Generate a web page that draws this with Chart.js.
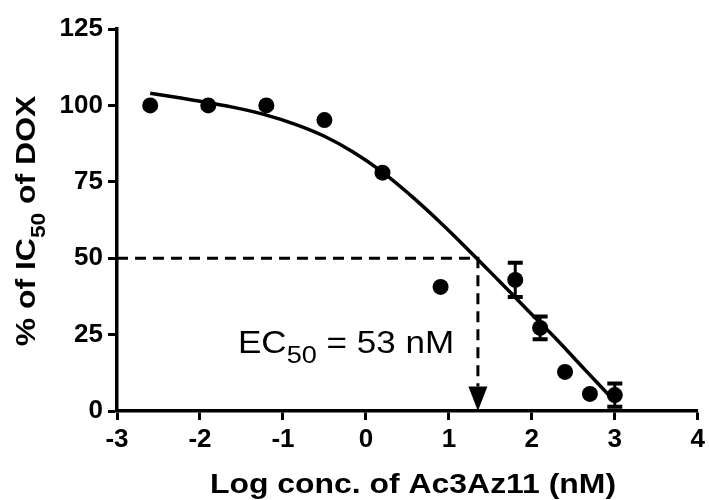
<!DOCTYPE html>
<html>
<head>
<meta charset="utf-8">
<script src="https://cdn.jsdelivr.net/npm/chart.js@4"></script>
<style>
  body { margin: 0; background: #fff; }
  #wrap { width: 709px; height: 500px; position: relative; }
</style>
</head>
<body>
<div id="wrap"><canvas id="ec50-chart"></canvas></div>
<script>
// Measured points (log nM vs % of IC50 of DOX)
const logConc = [-2.6, -1.9, -1.2, -0.5, 0.2, 0.9, 1.8, 2.1, 2.4, 2.7, 3.0];
const pctIC50 = [100, 100, 100, 95.2, 78, 40.6, 42.9, 27.2, 12.8, 5.6, 5.2];
const semVals = [0, 0, 0, 0, 0, 0, 5.6, 3.7, 0, 0, 3.8];

// Fitted curve
const fitX = [-2.6, -2.25, -1.9, -1.55, -1.2, -0.85, -0.5, -0.15, 0.2, 0.55, 0.9, 1.25, 1.6, 1.95, 2.3, 2.65, 2.95];
const fitY = [104, 102.5, 100.9, 99.1, 96.8, 93.8, 89.9, 84.7, 78.2, 70.3, 61.6, 52.3, 42.7, 33.0, 23.4, 13.2, 4.6];

// EC50 guide
const ec50Log = 1.35;
const ec50Level = 50;
const arrowBase = 8;

const xTicks = [-3, -2, -1, 0, 1, 2, 3, 4];
const yTicks = [0, 25, 50, 75, 100, 125];

const FONT = 'Arial, "Liberation Sans", sans-serif';

function partsWidth(ctx, parts) {
    let w = 0;
    parts.forEach(p => { ctx.font = p.font; w += ctx.measureText(p.text).width; });
    return w;
}

function drawParts(ctx, parts, x, y, stretch) {
    ctx.save();
    ctx.translate(x, y);
    ctx.scale(stretch, 1);
    ctx.fillStyle = "#000";
    ctx.textBaseline = "alphabetic";
    ctx.textAlign = "left";
    let cx = 0;
    parts.forEach(p => {
        ctx.font = p.font;
        ctx.fillText(p.text, cx, p.dy || 0);
        cx += ctx.measureText(p.text).width;
    });
    ctx.restore();
}

// error bars, arrow head and texts
const extras = {
    id: "extras",
    afterDatasetsDraw(chart) {
        const ctx = chart.ctx;
        const xs = chart.scales.x, ys = chart.scales.y;

        // error bars
        ctx.save();
        ctx.strokeStyle = "#000";
        logConc.forEach((x, i) => {
            if (!semVals[i]) return;
            const px = xs.getPixelForValue(x);
            const top = ys.getPixelForValue(pctIC50[i] + semVals[i]);
            const bot = ys.getPixelForValue(pctIC50[i] - semVals[i]);
            ctx.lineWidth = 3;
            ctx.beginPath();
            ctx.moveTo(px, top); ctx.lineTo(px, bot);
            ctx.stroke();
            ctx.lineWidth = 4;
            ctx.beginPath();
            ctx.moveTo(px - 7.5, top); ctx.lineTo(px + 7.5, top);
            ctx.moveTo(px - 7.5, bot); ctx.lineTo(px + 7.5, bot);
            ctx.stroke();
        });

        // arrow head
        const ax = xs.getPixelForValue(ec50Log);
        const ab = ys.getPixelForValue(arrowBase);
        const at = ys.getPixelForValue(0);
        ctx.fillStyle = "#000";
        ctx.beginPath();
        ctx.moveTo(ax - 9.5, ab);
        ctx.lineTo(ax + 9.5, ab);
        ctx.lineTo(ax, at);
        ctx.closePath();
        ctx.fill();
        ctx.restore();

        // EC50 label
        drawParts(ctx, [
            { text: "EC", font: "31px " + FONT },
            { text: "50", font: "24px " + FONT, dy: 10 },
            { text: " = 53 nM", font: "31px " + FONT }
        ], 238, 353, 1.13);
    },
    afterDraw(chart) {
        const ctx = chart.ctx;
        // x title
        const xParts = [{ text: "Log conc. of Ac3Az11 (nM)", font: "bold 28px " + FONT }];
        const xw = partsWidth(ctx, xParts) * 1.14;
        drawParts(ctx, xParts, 413 - xw / 2, 493, 1.14);

        // y title
        const yParts = [
            { text: "% of IC", font: "bold 28px " + FONT },
            { text: "50", font: "bold 20px " + FONT, dy: 10 },
            { text: " of DOX", font: "bold 28px " + FONT }
        ];
        const yw = partsWidth(ctx, yParts) * 1.14;
        ctx.save();
        ctx.translate(35, 221);
        ctx.rotate(-Math.PI / 2);
        drawParts(ctx, yParts, -yw / 2, 0, 1.14);
        ctx.restore();
    }
};

const ctx = document.getElementById("ec50-chart").getContext("2d");

let chart = new Chart(ctx, {
    type: "line",
    data: {
        datasets: [{
            label: "data",
            data: logConc.map((x, i) => ({ x: x, y: pctIC50[i] })),
            showLine: false,
            pointRadius: 8,
            pointBackgroundColor: "#000",
            pointBorderWidth: 0,
            order: 0
        }, {
            label: "fit",
            data: fitX.map((x, i) => ({ x: x, y: fitY[i] })),
            borderColor: "#000",
            borderWidth: 3.5,
            pointRadius: 0,
            tension: 0.4,
            order: 1
        }, {
            label: "guide",
            data: [{ x: -3, y: ec50Level }, { x: ec50Log, y: ec50Level }, { x: ec50Log, y: arrowBase }],
            borderColor: "#000",
            borderWidth: 3,
            borderDash: [11, 7],
            pointRadius: 0,
            tension: 0,
            order: 2
        }]
    },
    options: {
        responsive: true,
        maintainAspectRatio: false,
        animation: false,
        layout: { padding: { top: 29, right: 9, left: 0, bottom: 0 } },
        plugins: {
            legend: { display: false },
            tooltip: { enabled: false }
        },
        scales: {
            x: {
                type: "linear",
                min: -3, max: 4,
                afterFit: s => { s.height = 89; },
                afterBuildTicks: s => { s.ticks = xTicks.map(v => ({ value: v })); },
                border: { color: "#000", width: 3.5 },
                grid: { drawOnChartArea: false, drawTicks: true, tickLength: 9, tickWidth: 3, tickColor: "#000" },
                ticks: { color: "#000", font: { family: FONT, size: 26, weight: "bold" }, padding: 4, maxRotation: 0 }
            },
            y: {
                min: 0, max: 125,
                afterFit: s => { s.width = 117; },
                afterBuildTicks: s => { s.ticks = yTicks.map(v => ({ value: v })); },
                border: { color: "#000", width: 3.5 },
                grid: { drawOnChartArea: false, drawTicks: true, tickLength: 9, tickWidth: 3, tickColor: "#000" },
                ticks: { color: "#000", font: { family: FONT, size: 26, weight: "bold" }, padding: 5 }
            }
        }
    },
    plugins: [extras]
});
</script>
</body>
</html>
